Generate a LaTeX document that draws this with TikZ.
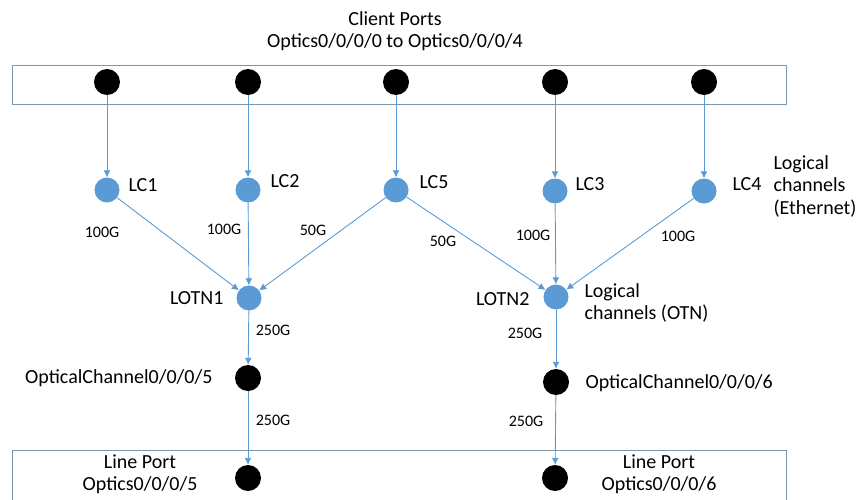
\documentclass[tikz,border=0pt]{standalone}
\usepackage{fontspec}
\setmainfont{Carlito}
\usetikzlibrary{arrows.meta}
\definecolor{chblue}{RGB}{91,155,213}
\definecolor{boxgrey}{RGB}{128,150,166}

\begin{document}
\begin{tikzpicture}[x=1pt, y=-1pt, font=\fontsize{20}{22.5}\selectfont,
  port/.style={circle, fill=black, minimum size=26pt, inner sep=0pt},
  chan/.style={circle, fill=chblue, minimum size=25pt, inner sep=0pt},
  rate/.style={font=\fontsize{16}{18}\selectfont},
  link/.style={draw=chblue, line width=0.9pt, -{Latex[length=7pt, width=7pt]}},
  align=center]

\useasboundingbox (0, 0) rectangle (861, 500);

% port boxes
\draw[boxgrey, line width=1pt] (12, 66) rectangle (786, 105);
\draw[boxgrey, line width=1pt] (12, 502) -- (12, 450) -- (786, 450) -- (786, 502);

\node (title) at (395, 31) {Client Ports\\Optics0/0/0/0 to Optics0/0/0/4};

\node[port] (cp1) at (107, 82) {};
\node[port] (cp2) at (248, 82) {};
\node[port] (cp5) at (396, 82) {};
\node[port] (cp3) at (555, 82) {};
\node[port] (cp4) at (704, 82) {};

\node[chan] (lc1) at (107, 190) {};
\node[chan] (lc2) at (248, 190) {};
\node[chan] (lc5) at (396, 190) {};
\node[chan] (lc3) at (555, 191) {};
\node[chan] (lc4) at (704, 191) {};

\node[anchor=west] (lc1text) at (125, 185) {LC1};
\node[anchor=west] (lc2text) at (267, 181) {LC2};
\node[anchor=west] (lc5text) at (416, 182) {LC5};
\node[anchor=west] (lc3text) at (572, 184) {LC3};
\node[anchor=west] (lc4text) at (729, 184) {LC4};
\node[anchor=west, align=left] (ethtext) at (770, 186) {Logical\\channels\\(Ethernet)};

\node[chan] (lotn1) at (249, 298) {};
\node[chan] (lotn2) at (556, 297) {};
\node[anchor=east] (lotn1text) at (227, 298) {LOTN1};
\node[anchor=east] (lotn2text) at (533, 299) {LOTN2};
\node[anchor=west, align=left] (otntext) at (581, 303) {Logical\\channels (OTN)};

\node[port] (och5) at (248, 378) {};
\node[port] (och6) at (556, 382) {};
\node[anchor=east] (och5text) at (216, 378) {OpticalChannel0/0/0/5};
\node[anchor=west] (och6text) at (582, 383) {OpticalChannel0/0/0/6};

\node[port] (lp5) at (248, 478) {};
\node[port] (lp6) at (555, 478) {};
\node (lp5text) at (140, 474) {Line Port\\Optics0/0/0/5};
\node (lp6text) at (659, 474) {Line Port\\Optics0/0/0/6};

\node[rate] (r1) at (102, 232) {100G};
\node[rate] (r2) at (224, 229) {100G};
\node[rate] (r3) at (313, 230) {50G};
\node[rate] (r4) at (443, 241) {50G};
\node[rate] (r5) at (533, 235) {100G};
\node[rate] (r6) at (678, 236) {100G};
\node[rate] (r7) at (273, 330) {250G};
\node[rate] (r8) at (273, 420) {250G};
\node[rate] (r9) at (525, 333) {250G};
\node[rate] (r10) at (526, 421) {250G};

\draw[link] (cp1) -- (lc1);
\draw[link] (cp2) -- (lc2);
\draw[link] (cp5) -- (lc5);
\draw[link] (cp3) -- (lc3);
\draw[link] (cp4) -- (lc4);
\draw[link] (lc1) -- (lotn1);
\draw[link] (lc2) -- (lotn1);
\draw[link] (lc5) -- (lotn1);
\draw[link] (lc5) -- (lotn2);
\draw[link] (lc3) -- (lotn2);
\draw[link] (lc4) -- (lotn2);
\draw[link] (lotn1) -- (och5);
\draw[link] (lotn2) -- (och6);
\draw[link] (och5) -- (lp5);
\draw[link] (och6) -- (lp6);

\end{tikzpicture}
\end{document}
